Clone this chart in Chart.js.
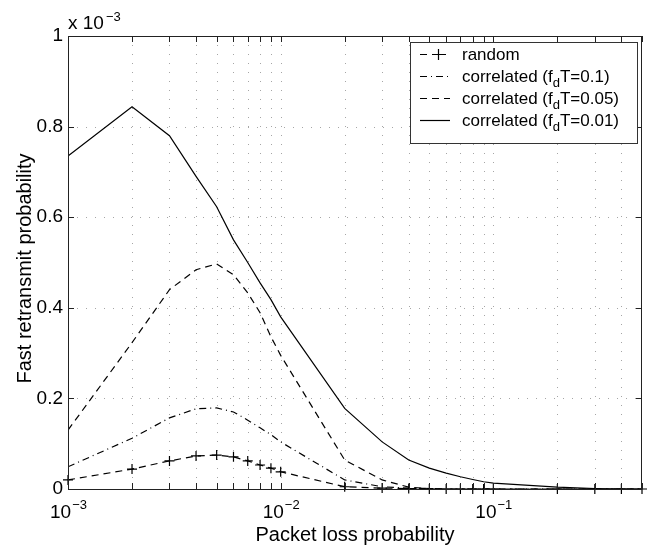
<!DOCTYPE html>
<html lang="en">
<head>
    <meta charset="UTF-8">
    <title>Fast retransmit probability</title>
    <script src="https://cdn.jsdelivr.net/npm/chart.js"></script>
    <style>
        body { margin: 0; background: #fff; }
        canvas { display: block; }
    </style>
</head>
<body>
    <canvas id="retxChart" width="651" height="550"></canvas>

    <script>
        // Packet loss probability (x) and curve values, y in units of 1e-3
        const lossProb = [0.001, 0.002, 0.003, 0.004, 0.005, 0.006, 0.007, 0.008, 0.009,
                          0.01, 0.02, 0.03, 0.04, 0.05, 0.06, 0.07, 0.08, 0.09,
                          0.1, 0.2, 0.3, 0.4, 0.5];
        const randomLoss = [0.020, 0.044, 0.062, 0.073, 0.075, 0.071, 0.062, 0.053, 0.046,
                            0.038, 0.005, 0.002, 0.001, 0, 0, 0, 0, 0,
                            0, 0, 0, 0, 0];
        const corrFdT01 = [0.049, 0.112, 0.157, 0.177, 0.179, 0.170, 0.152, 0.135, 0.120,
                           0.104, 0.020, 0.005, 0.002, 0.001, 0, 0, 0, 0,
                           0, 0, 0, 0, 0];
        const corrFdT005 = [0.130, 0.323, 0.440, 0.484, 0.497, 0.473, 0.433, 0.389, 0.336,
                            0.295, 0.064, 0.020, 0.004, 0.001, 0, 0, 0, 0,
                            0, 0, 0, 0, 0];
        const corrFdT001 = [0.735, 0.844, 0.780, 0.690, 0.623, 0.550, 0.500, 0.455, 0.418,
                            0.380, 0.178, 0.104, 0.064, 0.046, 0.035, 0.027, 0.021, 0.016,
                            0.013, 0.004, 0.001, 0, 0];

        const xTicks = [0.001, 0.002, 0.003, 0.004, 0.005, 0.006, 0.007, 0.008, 0.009,
                        0.01, 0.02, 0.03, 0.04, 0.05, 0.06, 0.07, 0.08, 0.09,
                        0.1, 0.2, 0.3, 0.4, 0.5];
        const yTicks = [0, 0.2, 0.4, 0.6, 0.8, 1];

        const FONT = "'Liberation Sans', Arial, sans-serif";

        const toPoints = arr => lossProb.map((x, i) => ({ x: x, y: arr[i] }));

        // grid, frame, inward ticks, axis text and the boxed legend
        const matlabAxes = {
            id: 'matlabAxes',
            beforeDatasetsDraw(chart) {
                const { ctx, chartArea: a, scales: { x, y } } = chart;
                ctx.save();
                ctx.strokeStyle = 'rgba(0,0,0,0.35)';
                ctx.lineWidth = 1;
                ctx.setLineDash([1, 8]);
                x.ticks.forEach(t => {
                    const px = Math.round(x.getPixelForValue(t.value)) + 0.5;
                    if (px <= a.left + 1 || px >= a.right - 1) return;
                    ctx.beginPath();
                    ctx.moveTo(px, a.top);
                    ctx.lineTo(px, a.bottom);
                    ctx.stroke();
                });
                y.ticks.forEach(t => {
                    const py = Math.round(y.getPixelForValue(t.value)) + 0.5;
                    if (py <= a.top + 1 || py >= a.bottom - 1) return;
                    ctx.beginPath();
                    ctx.moveTo(a.left, py);
                    ctx.lineTo(a.right, py);
                    ctx.stroke();
                });
                ctx.restore();
            },
            afterDraw(chart) {
                const { ctx, chartArea: a, scales: { x, y } } = chart;
                ctx.save();
                ctx.setLineDash([]);
                ctx.strokeStyle = '#222';
                ctx.lineWidth = 1;
                ctx.strokeRect(a.left + 0.5, a.top + 0.5, a.right - a.left - 1, a.bottom - a.top);

                const tl = 6;
                ctx.beginPath();
                x.ticks.forEach(t => {
                    const px = Math.round(x.getPixelForValue(t.value)) + 0.5;
                    ctx.moveTo(px, a.bottom); ctx.lineTo(px, a.bottom - tl);
                    ctx.moveTo(px, a.top); ctx.lineTo(px, a.top + tl);
                });
                y.ticks.forEach(t => {
                    const py = Math.round(y.getPixelForValue(t.value)) + 0.5;
                    ctx.moveTo(a.left, py); ctx.lineTo(a.left + tl, py);
                    ctx.moveTo(a.right, py); ctx.lineTo(a.right - tl, py);
                });
                ctx.stroke();

                // x tick labels: only the decades, as 10^n
                ctx.fillStyle = '#000';
                x.ticks.forEach(t => {
                    const e = Math.log10(t.value);
                    if (Math.abs(e - Math.round(e)) > 1e-9) return;
                    const base = '10', exp = '\u2212' + Math.abs(Math.round(e));
                    ctx.font = '19px ' + FONT;
                    const wb = ctx.measureText(base).width;
                    ctx.font = '13px ' + FONT;
                    const we = ctx.measureText(exp).width;
                    const left = x.getPixelForValue(t.value) - (wb + we) / 2;
                    ctx.textAlign = 'left';
                    ctx.textBaseline = 'alphabetic';
                    ctx.font = '19px ' + FONT;
                    ctx.fillText(base, left, 518);
                    ctx.font = '13px ' + FONT;
                    ctx.fillText(exp, left + wb + 1, 509);
                });

                // axis titles
                ctx.font = '20px ' + FONT;
                ctx.textAlign = 'center';
                ctx.fillText('Packet loss probability', (a.left + a.right) / 2, 541);
                ctx.save();
                ctx.translate(25, (a.top + a.bottom) / 2 + 6);
                ctx.rotate(-Math.PI / 2);
                ctx.textBaseline = 'middle';
                ctx.fillText('Fast retransmit probability', 0, 0);
                ctx.restore();

                // multiplier above the y axis
                ctx.textAlign = 'left';
                ctx.font = '19px ' + FONT;
                ctx.fillText('x 10', a.left, 29);
                const wm = ctx.measureText('x 10').width;
                ctx.font = '13px ' + FONT;
                ctx.fillText('\u22123', a.left + wm + 2, 21);

                // legend
                const box = { l: 410, t: 42, r: 637, b: 143 };
                ctx.fillStyle = '#fff';
                ctx.fillRect(box.l, box.t, box.r - box.l, box.b - box.t);
                ctx.strokeStyle = '#333';
                ctx.strokeRect(box.l + 0.5, box.t + 0.5, box.r - box.l, box.b - box.t);
                chart.data.datasets.forEach((ds, i) => {
                    const cy = 54 + i * 22;
                    ctx.strokeStyle = '#000';
                    ctx.lineWidth = 1.2;
                    ctx.setLineDash(ds.borderDash || []);
                    ctx.beginPath();
                    ctx.moveTo(420, cy + 0.5);
                    ctx.lineTo(i === 0 ? 446 : 450, cy + 0.5);
                    ctx.stroke();
                    ctx.setLineDash([]);
                    if (ds.pointRadius > 0) {
                        ctx.beginPath();
                        ctx.moveTo(438.5, cy - 5); ctx.lineTo(438.5, cy + 6);
                        ctx.moveTo(433, cy + 0.5); ctx.lineTo(444, cy + 0.5);
                        ctx.stroke();
                    }
                    // label with optional subscript after '_'
                    ctx.fillStyle = '#000';
                    ctx.textBaseline = 'alphabetic';
                    let tx = 462;
                    const baseY = cy + 6;
                    const parts = ds.label.split('_');
                    parts.forEach((p, k) => {
                        let rest = p;
                        if (k > 0) {
                            ctx.font = '13px ' + FONT;
                            ctx.fillText(p[0], tx, baseY + 5);
                            tx += ctx.measureText(p[0]).width;
                            rest = p.slice(1);
                        }
                        ctx.font = '17px ' + FONT;
                        ctx.fillText(rest, tx, baseY);
                        tx += ctx.measureText(rest).width;
                    });
                });
                ctx.restore();
            }
        };

        new Chart(document.getElementById('retxChart'), {
            type: 'line',
            data: {
                datasets: [
                    {
                        label: 'random',
                        data: toPoints(randomLoss),
                        borderColor: '#000',
                        borderWidth: 1.2,
                        borderDash: [7, 5],
                        pointStyle: 'cross',
                        pointRadius: 5,
                        pointBorderColor: '#000',
                        pointBorderWidth: 1.2,
                        clip: false
                    },
                    {
                        label: 'correlated (f_dT=0.1)',
                        data: toPoints(corrFdT01),
                        borderColor: '#000',
                        borderWidth: 1.2,
                        borderDash: [7, 4, 1, 4],
                        pointRadius: 0
                    },
                    {
                        label: 'correlated (f_dT=0.05)',
                        data: toPoints(corrFdT005),
                        borderColor: '#000',
                        borderWidth: 1.2,
                        borderDash: [7, 5],
                        pointRadius: 0
                    },
                    {
                        label: 'correlated (f_dT=0.01)',
                        data: toPoints(corrFdT001),
                        borderColor: '#000',
                        borderWidth: 1.2,
                        pointRadius: 0
                    }
                ]
            },
            options: {
                responsive: false,
                animation: false,
                layout: { padding: { top: 36, right: 9, left: 0, bottom: 0 } },
                plugins: {
                    legend: { display: false },
                    tooltip: { enabled: false }
                },
                scales: {
                    x: {
                        type: 'logarithmic',
                        min: 0.001,
                        max: 0.5,
                        grid: { display: false, drawTicks: false },
                        border: { display: false },
                        ticks: { display: false },
                        afterBuildTicks: s => { s.ticks = xTicks.map(v => ({ value: v })); },
                        afterFit: s => { s.height = 61; }
                    },
                    y: {
                        min: 0,
                        max: 1,
                        grid: { display: false, drawTicks: false },
                        border: { display: false },
                        ticks: {
                            color: '#000',
                            padding: 5,
                            font: { family: FONT, size: 19 },
                            callback: v => String(v)
                        },
                        afterBuildTicks: s => { s.ticks = yTicks.map(v => ({ value: v })); },
                        afterFit: s => { s.width = 68; }
                    }
                }
            },
            plugins: [matlabAxes]
        });
    </script>
</body>
</html>
